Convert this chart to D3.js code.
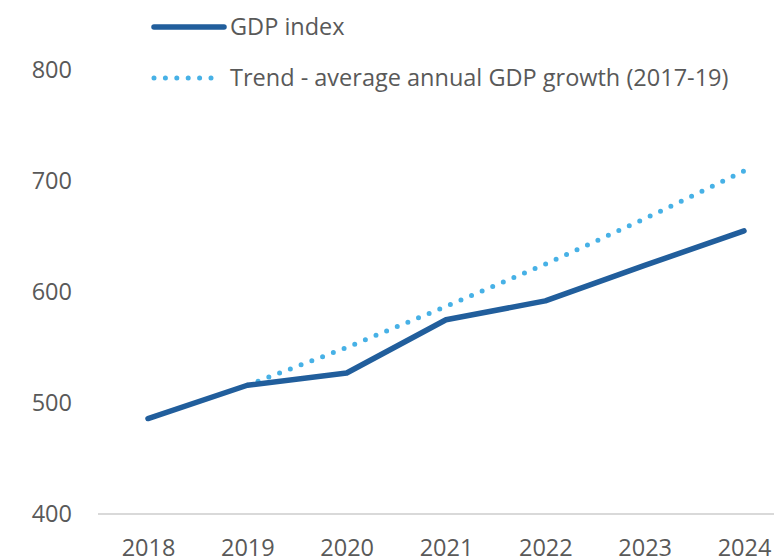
<!DOCTYPE html>
<html>
<head>
<meta charset="utf-8">
<script src="https://cdn.jsdelivr.net/npm/d3@7"></script>
<style>
  body { margin: 0; background: #fff; }
  text { font-family: "Open Sans", "Liberation Sans", sans-serif; fill: #595959; }
</style>
</head>
<body>
<div id="chart"></div>
<script>
const years = ["2018", "2019", "2020", "2021", "2022", "2023", "2024"];
const gdpIndex = [486, 516, 527, 575, 592, 624, 655];
const trendYears = ["2019", "2020", "2021", "2022", "2023", "2024"];
const trendValues = [516, 550, 587, 625, 666, 709];
const yTicks = [400, 500, 600, 700, 800];
const seriesNames = ["GDP index", "Trend - average annual GDP growth (2017-19)"];

const width = 774, height = 557;
const darkBlue = "#215e9c";
const lightBlue = "#47b1e6";

const svg = d3.select("#chart")
    .append("svg")
    .attr("width", width)
    .attr("height", height);

// scales
const x = d3.scalePoint()
    .domain(years)
    .range([148, 744]);

const y = d3.scaleLinear()
    .domain([400, 800])
    .range([514, 70]);

// baseline at 400
svg.append("line")
    .attr("x1", 98)
    .attr("x2", width)
    .attr("y1", y(400))
    .attr("y2", y(400))
    .attr("stroke", "#d9d9d9")
    .attr("stroke-width", 2);

// y axis labels
const yAxis = svg.append("g")
    .attr("transform", "translate(72,0)")
    .call(d3.axisLeft(y).tickValues(yTicks).tickSize(0).tickPadding(0));
yAxis.select(".domain").remove();
yAxis.selectAll("text")
    .style("font-size", "23.5px")
    .attr("fill", "#595959");

// x axis labels
const xAxis = svg.append("g")
    .attr("transform", `translate(0,${y(400)})`)
    .call(d3.axisBottom(x).tickSize(0).tickPadding(25));
xAxis.select(".domain").remove();
xAxis.selectAll("text")
    .style("font-size", "23.5px")
    .attr("fill", "#595959");

// lines
const gdpLine = d3.line()
    .x((d, i) => x(years[i]))
    .y(d => y(d));

const trendLine = d3.line()
    .x((d, i) => x(trendYears[i]))
    .y(d => y(d));

svg.append("path")
    .datum(trendValues)
    .attr("fill", "none")
    .attr("stroke", lightBlue)
    .attr("stroke-width", 5)
    .attr("stroke-linecap", "round")
    .attr("stroke-dasharray", "0 11.5")
    .attr("d", trendLine);

svg.append("path")
    .datum(gdpIndex)
    .attr("fill", "none")
    .attr("stroke", darkBlue)
    .attr("stroke-width", 5.5)
    .attr("stroke-linejoin", "round")
    .attr("stroke-linecap", "round")
    .attr("d", gdpLine);

// legend
const legend = svg.append("g");
legend.append("line")
    .attr("x1", 154).attr("x2", 224)
    .attr("y1", 27).attr("y2", 27)
    .attr("stroke", darkBlue)
    .attr("stroke-width", 5.5)
    .attr("stroke-linecap", "round");
legend.append("text")
    .attr("x", 230).attr("y", 27)
    .attr("dy", "0.35em")
    .style("font-size", "23.5px")
    .text(seriesNames[0]);

legend.append("line")
    .attr("x1", 154).attr("x2", 221)
    .attr("y1", 78).attr("y2", 78)
    .attr("stroke", lightBlue)
    .attr("stroke-width", 5)
    .attr("stroke-linecap", "round")
    .attr("stroke-dasharray", "0 11.4");
legend.append("text")
    .attr("x", 230).attr("y", 78)
    .attr("dy", "0.35em")
    .style("font-size", "23.5px")
    .text(seriesNames[1]);
</script>
</body>
</html>
